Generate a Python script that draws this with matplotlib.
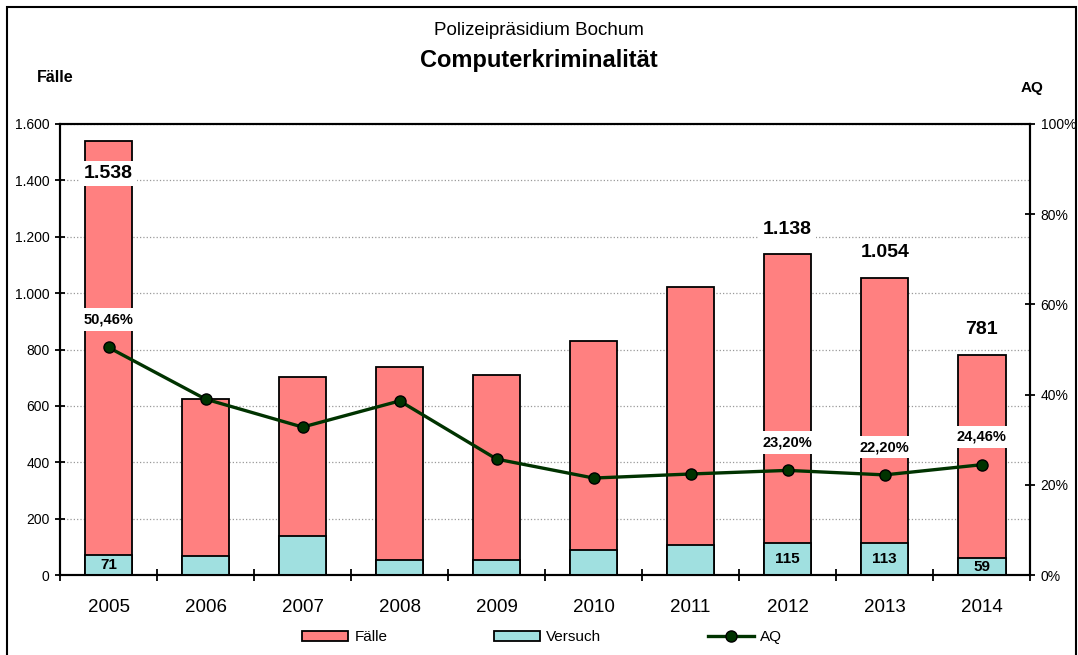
import numpy as np
import matplotlib.pyplot as plt
from matplotlib.patches import Rectangle
from matplotlib.ticker import FuncFormatter, MultipleLocator

plt.rcParams['font.family'] = ['Liberation Sans', 'DejaVu Sans']

#data
jahre = ['2005', '2006', '2007', '2008', '2009', '2010', '2011', '2012', '2013', '2014']
faelle = [1538, 624, 702, 738, 709, 830, 1022, 1138, 1054, 781]
versuch = [71, 67, 138, 53, 53, 89, 106, 115, 113, 59]
aq = [50.46, 39.0, 32.8, 38.6, 25.7, 21.5, 22.4, 23.20, 22.20, 24.46]
beschriftet = ['2005', '2012', '2013', '2014']

x = np.arange(len(jahre))

fig = plt.figure(figsize=(10.78, 6.55), dpi=100)
ax = fig.add_axes([0.0557, 0.1221, 0.9, 0.6886])
ax2 = ax.twinx()

#bars
ax.bar(x, faelle, width=0.49, color='#FF8080', edgecolor='black', linewidth=1.3, label='Fälle', zorder=2)
ax.bar(x, versuch, width=0.49, color='#A0E0E0', edgecolor='black', linewidth=1.3, label='Versuch', zorder=3)

ax.set_ylim(0, 1600)
ax.set_xlim(-0.5, len(jahre) - 0.5)
ax.yaxis.set_major_locator(MultipleLocator(200))
ax.yaxis.set_major_formatter(FuncFormatter(lambda v, p: f'{int(v):,}'.replace(',', '.')))
ax.grid(axis='y', color='#999999', linestyle=':', linewidth=0.9, zorder=0)
ax.set_axisbelow(True)

ax.set_xticks(x)
ax.set_xticklabels(jahre, fontsize=13.5)
ax.set_xticks(np.arange(-0.5, len(jahre)), minor=True)
ax.tick_params(axis='x', which='major', length=0, pad=17)
ax.tick_params(axis='x', which='minor', length=8, width=1.3, direction='inout')
ax.tick_params(axis='y', labelsize=10, length=7, width=1.3, direction='inout', pad=4)
for s in ax.spines.values():
    s.set_linewidth(1.5)

#AQ line
ax2.plot(x, [v / 100 for v in aq], color='#003300', linewidth=2.4, marker='o', markersize=8,
         markerfacecolor='#003300', markeredgecolor='black', markeredgewidth=1, label='AQ', zorder=5)
ax2.set_ylim(0, 1)
ax2.yaxis.set_major_locator(MultipleLocator(0.2))
ax2.yaxis.set_major_formatter(FuncFormatter(lambda v, p: f'{int(round(v * 100))}%'))
ax2.tick_params(axis='y', labelsize=10, length=7, width=1.3, direction='inout', pad=4)
for s in ax2.spines.values():
    s.set_linewidth(1.5)

#labels
box = dict(facecolor='white', edgecolor='none', pad=3)
for i, j in enumerate(jahre):
    if j not in beschriftet:
        continue
    off = -23 if faelle[i] > 1400 else 18
    ax2.annotate(f'{faelle[i]:,}'.replace(',', '.'), (x[i], faelle[i] / 1600), textcoords='offset points',
                 xytext=(0, off), ha='center', va='center', fontsize=14, fontweight='bold', bbox=box, zorder=6)
    ax2.annotate(f'{aq[i]:.2f}%'.replace('.', ','), (x[i], aq[i] / 100), textcoords='offset points',
                 xytext=(0, 20), ha='center', va='center', fontsize=10.5, fontweight='bold', bbox=box, zorder=6)
    ax.text(x[i], versuch[i] / 2, str(versuch[i]), ha='center', va='center', fontsize=11,
            fontweight='bold', zorder=6)

#titles
fig.text(0.5, 0.953, 'Polizeipräsidium Bochum', ha='center', va='center', fontsize=13.5)
fig.text(0.5, 0.908, 'Computerkriminalität', ha='center', va='center', fontsize=17, fontweight='bold')
fig.text(0.051, 0.882, 'Fälle', ha='center', va='center', fontsize=11.5, fontweight='bold')
fig.text(0.957, 0.866, 'AQ', ha='center', va='center', fontsize=11, fontweight='bold')

#legend
h1, l1 = ax.get_legend_handles_labels()
h2, l2 = ax2.get_legend_handles_labels()
fig.legend(h1 + h2, l1 + l2, loc='center', bbox_to_anchor=(0.503, 0.027), ncol=3, frameon=False,
           fontsize=11, columnspacing=7, handlelength=3, handletextpad=0.4)

#outer frame
fig.patches.append(Rectangle((7 / 1078, -0.02), 1069 / 1078, 1.02 - 7 / 655, transform=fig.transFigure,
                             fill=False, edgecolor='black', linewidth=1.5))

fig.savefig('out.png', dpi=100)
